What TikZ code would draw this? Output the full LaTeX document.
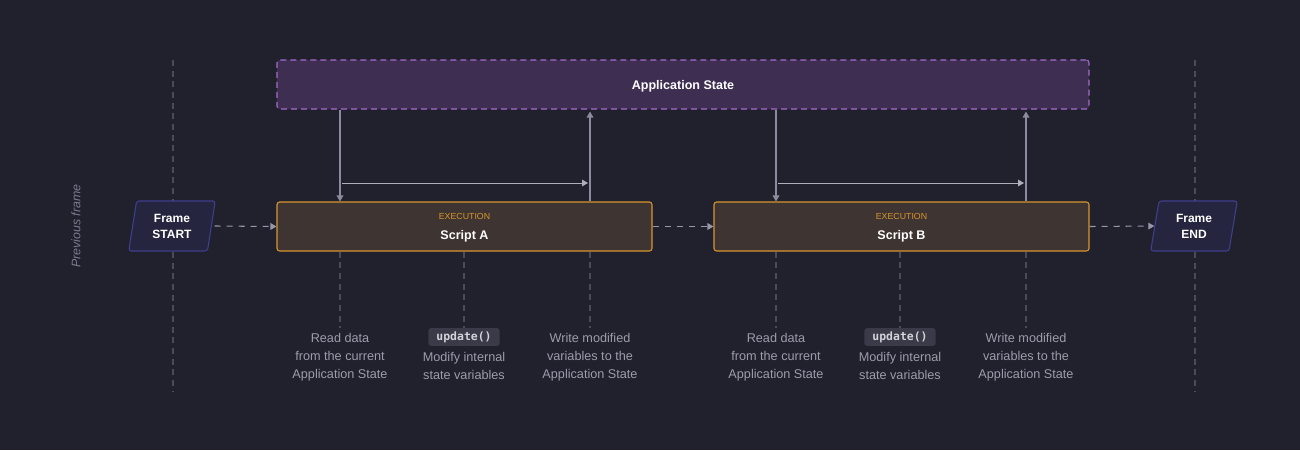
\documentclass[tikz,border=0pt]{standalone}
\usepackage{fontspec}
\setmainfont{Liberation Sans}
\setmonofont{DejaVu Sans Mono}
\usetikzlibrary{arrows.meta,shapes.geometric}

\definecolor{bgcol}{HTML}{21202D}
\definecolor{framefill}{HTML}{25253F}
\definecolor{frameline}{HTML}{3F3F8C}
\definecolor{statefill}{HTML}{3E2F52}
\definecolor{stateline}{HTML}{A46CCB}
\definecolor{scriptfill}{HTML}{3E3431}
\definecolor{scriptline}{HTML}{D7952F}
\definecolor{flowcol}{HTML}{8B8B9F}
\definecolor{guidecol}{HTML}{4A4A5A}
\definecolor{notecol}{HTML}{9C9CAB}
\definecolor{codefill}{HTML}{3A3A48}

\tikzset{
	framebox/.style={trapezium, trapezium left angle=80, trapezium right angle=100,
		trapezium stretches=true, minimum width=65pt, minimum height=37.5pt,
		fill=framefill, draw=frameline, line width=0.8pt, rounded corners=2pt,
		text=white, font=\fontsize{9}{12}\selectfont\bfseries, align=center, inner sep=0pt},
	statebox/.style={rectangle, minimum width=609pt, minimum height=36.75pt,
		fill=statefill, draw=stateline, line width=0.8pt, dash pattern=on 4.5pt off 3pt,
		rounded corners=2pt, text=white, font=\fontsize{9.4}{11}\selectfont\bfseries, text depth=0pt},
	scriptbox/.style={rectangle, minimum width=281.25pt, minimum height=36.75pt,
		fill=scriptfill, draw=scriptline, line width=0.8pt, rounded corners=2pt,
		text=white, font=\fontsize{9.4}{11}\selectfont\bfseries, align=center, text depth=0pt},
	flow/.style={draw=flowcol, line width=0.9pt, -{Triangle[length=4.5pt,width=5pt]}},
	passflow/.style={draw=flowcol!90!white, line width=0.8pt, dash pattern=on 4.5pt off 4.5pt,
		-{Triangle[length=4.5pt,width=5pt]}},
	guide/.style={draw=guidecol, line width=0.8pt, dash pattern=on 4.5pt off 3.5pt},
	note/.style={text=notecol, font=\fontsize{9.5}{13.5}\selectfont, align=center, inner sep=0pt},
	code/.style={fill=codefill, rounded corners=2pt, text=notecol!45!white,
		font=\fontsize{8.6}{10}\selectfont\ttfamily\bfseries, inner xsep=6pt, inner ysep=2.5pt}
}

\begin{document}
\begin{tikzpicture}[x=0.75pt,y=-0.75pt]
	\fill[bgcol] (0,0) rectangle (1300,450);
	\useasboundingbox (0,0) rectangle (1300,450);

	% frame borders
	\coordinate (prevtop) at (173,60);
	\coordinate (prevbot) at (173,392);
	\coordinate (nexttop) at (1195,60);
	\coordinate (nextbot) at (1195,392);
	\draw[guide] (prevtop) -- (prevbot);
	\draw[guide] (nexttop) -- (nextbot);
	\path (76,226) node[rotate=90, text=flowcol!85!bgcol, font=\fontsize{9.3}{11}\selectfont\itshape] (prevlbl) {Previous frame};

	% boxes
	\path (683,84.5) node[statebox] (state) {Application State};
	\path (172,226) node[framebox] (start) {Frame\\START};
	\path (1194,226) node[framebox] (stop) {Frame\\END};
	\path (464.5,226.5) node[scriptbox] (scriptA) {{\fontsize{6.6}{8}\selectfont\mdseries\color{scriptline}EXECUTION}\\[3.5pt]Script A};
	\path (901.5,226.5) node[scriptbox] (scriptB) {{\fontsize{6.6}{8}\selectfont\mdseries\color{scriptline}EXECUTION}\\[3.5pt]Script B};

	% frame flow
	\draw[passflow] (start.east) ++(2pt,0) -- (scriptA.west);
	\draw[passflow] (scriptA.east) -- (scriptB.west);
	\draw[passflow] (scriptB.east) -- (stop.west);

	% columns
	\coordinate (readA) at (340,226);
	\coordinate (updA) at (464,226);
	\coordinate (writeA) at (590,226);
	\coordinate (readB) at (776,226);
	\coordinate (updB) at (900,226);
	\coordinate (writeB) at (1026,226);

	% state access
	\draw[flow] (state.south -| readA) -- (scriptA.north -| readA);
	\draw[flow] (scriptA.north -| writeA) -- ([yshift=-1.5pt]state.south -| writeA);
	\draw[flow, draw=flowcol!70!white, line width=0.7pt] ([xshift=1.5pt]readA |- 0,183) -- ([xshift=-1.5pt]writeA |- 0,183);
	\draw[flow] (state.south -| readB) -- (scriptB.north -| readB);
	\draw[flow] (scriptB.north -| writeB) -- ([yshift=-1.5pt]state.south -| writeB);
	\draw[flow, draw=flowcol!70!white, line width=0.7pt] ([xshift=1.5pt]readB |- 0,183) -- ([xshift=-1.5pt]writeB |- 0,183);

	% notes
	\path (340,357) node[note] (readtxtA) {Read data\\from the current\\Application State};
	\path (464,337) node[code] (codeA) {update()};
	\path (464,366) node[note] (updtxtA) {Modify internal\\state variables};
	\path (590,357) node[note] (writetxtA) {Write modified\\variables to the\\Application State};
	\path (776,357) node[note] (readtxtB) {Read data\\from the current\\Application State};
	\path (900,337) node[code] (codeB) {update()};
	\path (900,366) node[note] (updtxtB) {Modify internal\\state variables};
	\path (1026,357) node[note] (writetxtB) {Write modified\\variables to the\\Application State};

	\draw[guide] (scriptA.south -| readA) -- ([yshift=4pt]readtxtA.north);
	\draw[guide] (scriptA.south -| updA) -- (codeA.north);
	\draw[guide] (scriptA.south -| writeA) -- ([yshift=4pt]writetxtA.north);
	\draw[guide] (scriptB.south -| readB) -- ([yshift=4pt]readtxtB.north);
	\draw[guide] (scriptB.south -| updB) -- (codeB.north);
	\draw[guide] (scriptB.south -| writeB) -- ([yshift=4pt]writetxtB.north);
\end{tikzpicture}
\end{document}
